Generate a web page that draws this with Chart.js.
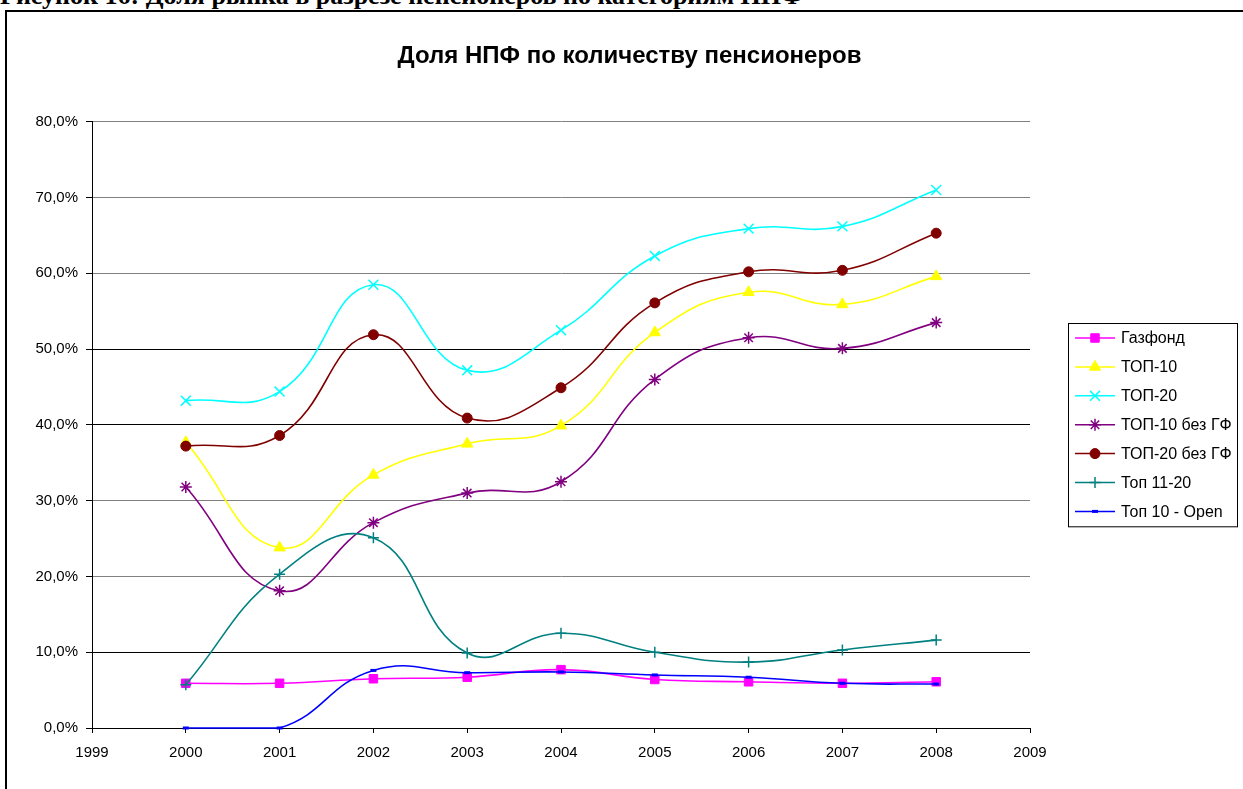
<!DOCTYPE html>
<html>
<head>
<meta charset="utf-8">
<script src="https://cdn.jsdelivr.net/npm/chart.js@4.4.0/dist/chart.umd.min.js"></script>
<style>
    html, body { margin: 0; padding: 0; background: #fff; overflow: hidden; }
    #wrap { position: relative; width: 1243px; height: 789px; }
    #caption {
        position: absolute; left: 0; top: -17px;
        font: bold 26px 'Liberation Serif', serif; line-height: 26px;
        white-space: nowrap; color: #000;
    }
    #frame {
        position: absolute; left: 5px; top: 10px; width: 1300px; height: 900px;
        border: 2px solid #000; box-sizing: border-box;
    }
    #chart-box { position: absolute; left: 0; top: 0; width: 1243px; height: 789px; }
</style>
</head>
<body>
<div id="wrap">
    <div id="caption">Рисунок 16: Доля рынка в разрезе пенсионеров по категориям НПФ</div>
    <div id="frame"></div>
    <div id="chart-box"><canvas id="shareChart" width="1243" height="789"></canvas></div>
</div>
<script>
// years on the x axis
const years = [2000, 2001, 2002, 2003, 2004, 2005, 2006, 2007, 2008];

// share of pensioners, %
const gazfond    = [5.9, 5.9, 6.5, 6.7, 7.7, 6.4, 6.1, 5.9, 6.1];
const top10      = [37.7, 23.8, 33.4, 37.5, 39.9, 52.2, 57.5, 55.9, 59.6];
const top20      = [43.2, 44.4, 58.5, 47.2, 52.5, 62.3, 65.9, 66.2, 71.0];
const top10NoGF  = [31.8, 18.1, 27.1, 31.0, 32.5, 46.0, 51.5, 50.1, 53.5];
const top20NoGF  = [37.2, 38.6, 51.9, 40.9, 44.9, 56.1, 60.2, 60.4, 65.3];
const top11to20  = [5.7, 20.3, 25.1, 9.9, 12.5, 10.0, 8.7, 10.3, 11.6];
const top10Open  = [0.0, 0.0, 7.6, 7.3, 7.4, 7.0, 6.7, 5.9, 5.8];

const seriesNames  = ['Газфонд', 'ТОП-10', 'ТОП-20', 'ТОП-10 без ГФ', 'ТОП-20 без ГФ', 'Топ 11-20', 'Топ 10 - Open'];
const seriesValues = [gazfond, top10, top20, top10NoGF, top20NoGF, top11to20, top10Open];
const seriesColors = ['#FF00FF', '#FFFF00', '#00FFFF', '#800080', '#800000', '#008080', '#0000FF'];
const pointStyles  = ['rect', 'triangle', 'crossRot', 'star', 'circle', 'cross', 'line'];
const pointSizes   = [6, 6.5, 7, 6, 5, 5.5, 3];
const pointWidths  = [1, 1, 1.5, 1.5, 1, 1.5, 3];

const xMin = 1999, xMax = 2009;
const yMin = 0, yMax = 80, yStep = 10;

const FONT = "'Liberation Sans', Arial, sans-serif";

// excel style legend in a box at the right
const boxLegend = {
    id: 'boxLegend',
    afterDraw(chart) {
        const ctx = chart.ctx;
        const x = chart.chartArea.right + 38;
        const y = 323;
        const w = 169, rowH = 28.9;
        const h = rowH * chart.data.datasets.length + 1;
        ctx.save();
        ctx.strokeStyle = '#000';
        ctx.lineWidth = 1;
        ctx.strokeRect(x + 0.5, y + 0.5, w, h);
        chart.data.datasets.forEach((ds, i) => {
            const cy = y + 15 + i * rowH;
            ctx.strokeStyle = ds.borderColor;
            ctx.lineWidth = 1.5;
            ctx.beginPath();
            ctx.moveTo(x + 7, cy);
            ctx.lineTo(x + 47, cy);
            ctx.stroke();
            ctx.fillStyle = ds.pointBackgroundColor;
            ctx.strokeStyle = ds.pointBorderColor;
            ctx.lineWidth = ds.pointBorderWidth;
            Chart.helpers.drawPoint(ctx, {
                pointStyle: ds.pointStyle,
                radius: ds.pointRadius,
                borderWidth: ds.pointBorderWidth,
                rotation: 0
            }, x + 27, cy);
            ctx.fillStyle = '#000';
            ctx.font = '16px ' + FONT;
            ctx.textBaseline = 'middle';
            ctx.textAlign = 'left';
            ctx.fillText(ds.label, x + 53, cy + 1);
        });
        ctx.restore();
    }
};

// later series drawn on top, like the original
const datasets = seriesNames.map((name, i) => ({
    label: name,
    data: years.map((yr, j) => ({ x: yr, y: seriesValues[i][j] })),
    order: seriesNames.length - i,
    borderColor: seriesColors[i],
    backgroundColor: seriesColors[i],
    pointBackgroundColor: seriesColors[i],
    pointBorderColor: seriesColors[i],
    pointStyle: pointStyles[i],
    pointRadius: pointSizes[i],
    pointBorderWidth: pointWidths[i],
    borderWidth: 1.6,
    tension: 0.45,
    fill: false,
    clip: false
}));

new Chart(document.getElementById('shareChart'), {
    type: 'line',
    data: { datasets: datasets },
    plugins: [boxLegend],
    options: {
        responsive: false,
        animation: false,
        layout: { padding: { left: 16, right: 0, top: 0, bottom: 31 } },
        scales: {
            x: {
                type: 'linear',
                min: xMin,
                max: xMax,
                ticks: {
                    stepSize: 1,
                    color: '#000',
                    padding: 11,
                    font: { family: FONT, size: 15 },
                    callback: v => String(v)
                },
                grid: {
                    drawOnChartArea: false,
                    tickLength: 5,
                    tickColor: '#000'
                },
                border: { color: '#000', width: 1 },
                afterFit: s => { s.height = 30; }
            },
            y: {
                min: yMin,
                max: yMax,
                ticks: {
                    stepSize: yStep,
                    color: '#000',
                    padding: 8,
                    font: { family: FONT, size: 15 },
                    callback: v => v.toFixed(1).replace('.', ',') + '%'
                },
                grid: {
                    color: c => [20, 30, 60, 70, 80].includes(c.tick.value) ? '#808080' : '#000',
                    lineWidth: 1,
                    tickLength: 6,
                    tickColor: '#000'
                },
                border: { color: '#000', width: 1 },
                afterFit: s => { s.width = 76; }
            },
            yRight: {
                position: 'right',
                display: true,
                grid: { display: false },
                border: { display: false },
                ticks: { display: false },
                afterFit: s => { s.width = 213; }
            }
        },
        plugins: {
            legend: { display: false },
            tooltip: { enabled: false },
            title: {
                display: true,
                text: 'Доля НПФ по количеству пенсионеров',
                color: '#000',
                font: { family: FONT, size: 24, weight: 'bold', lineHeight: 1.2 },
                padding: { top: 42, bottom: 51 }
            }
        }
    }
});
</script>
</body>
</html>
